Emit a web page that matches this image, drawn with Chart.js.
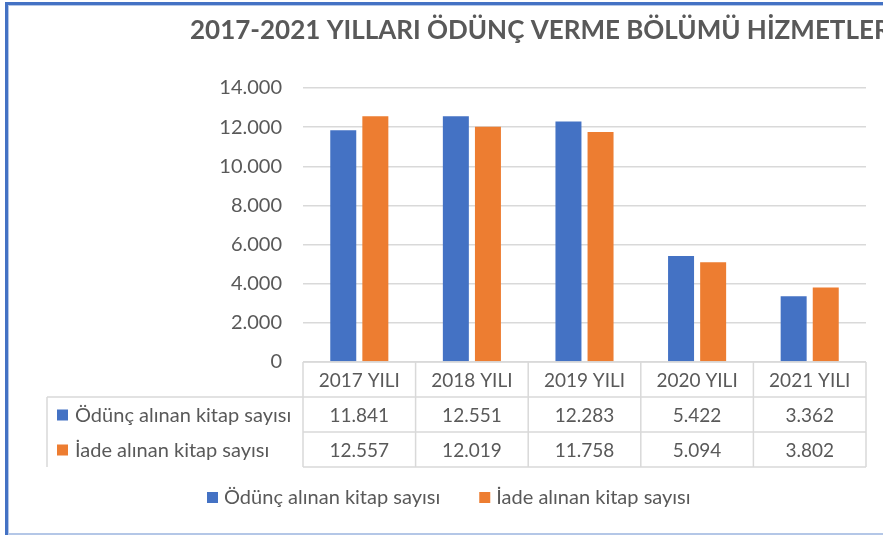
<!DOCTYPE html>
<html>
<head>
<meta charset="utf-8">
<script src="https://cdn.jsdelivr.net/npm/chart.js@4"></script>
<style>
  html, body { margin: 0; padding: 0; background: #fff; }
  #wrap { width: 883px; height: 535px; position: relative; }
</style>
</head>
<body>
<div id="wrap"><canvas id="myChart" width="883" height="535"></canvas></div>
<script>
const chartTitle = "2017-2021 YILLARI ÖDÜNÇ VERME BÖLÜMÜ HİZMETLERİ";
const years = ["2017 YILI", "2018 YILI", "2019 YILI", "2020 YILI", "2021 YILI"];
const seriesNames = ["Ödünç alınan kitap sayısı", "İade alınan kitap sayısı"];
const borrowed = [11841, 12551, 12283, 5422, 3362];
const returned = [12557, 12019, 11758, 5094, 3802];
const yTicks = [0, 2000, 4000, 6000, 8000, 10000, 12000, 14000];

const blue = "#4472C4";
const orange = "#ED7D31";
const textColor = "#595959";
const lineColor = "#d9d9d9";
const fontName = "Lato, 'Open Sans', sans-serif";

// dotted thousands like the Turkish sheet
function fmt(v) {
  return String(v).replace(/\B(?=(\d{3})+(?!\d))/g, ".");
}

const tablePlugin = {
  id: "dataTable",
  beforeDraw(chart) {
    const ctx = chart.ctx;
    ctx.save();
    ctx.fillStyle = "#fff";
    ctx.fillRect(0, 0, chart.width, chart.height);
    // frame
    ctx.fillStyle = "#4472C4";
    ctx.fillRect(5, 2, chart.width - 5, 3);
    ctx.fillRect(5, 2, 3, chart.height - 2);
    ctx.fillStyle = "#b4c7e7";
    ctx.fillRect(8, 5, chart.width - 8, 1);
    ctx.fillRect(8, 5, 1, chart.height - 5);
    ctx.fillRect(8, 533, chart.width - 8, 2);
    ctx.restore();
  },
  afterDraw(chart) {
    const ctx = chart.ctx;
    const x = chart.scales.x;
    const area = chart.chartArea;
    const rowH = 35;
    const top = area.bottom;
    const labelLeft = 47;
    const edges = [];
    for (let i = 0; i < years.length; i++) {
      const c = x.getPixelForValue(i);
      const half = (x.getPixelForValue(1) - x.getPixelForValue(0)) / 2;
      if (i === 0) edges.push(c - half);
      edges.push(c + half);
    }
    ctx.save();

    // title (runs off the right edge like the original)
    ctx.fillStyle = textColor;
    ctx.font = "bold 26px " + fontName;
    ctx.textAlign = "left";
    ctx.textBaseline = "middle";
    ctx.fillText(chartTitle, 190, 31);

    // table grid
    ctx.strokeStyle = lineColor;
    ctx.lineWidth = 1.5;
    ctx.beginPath();
    ctx.moveTo(edges[0], top);
    ctx.lineTo(edges[edges.length - 1], top);
    for (let r = 1; r <= 3; r++) {
      ctx.moveTo(r === 1 ? labelLeft : edges[0], top + r * rowH);
      ctx.lineTo(edges[edges.length - 1], top + r * rowH);
    }
    edges.forEach(e => {
      ctx.moveTo(e, top);
      ctx.lineTo(e, top + 3 * rowH);
    });
    ctx.moveTo(labelLeft, top + rowH);
    ctx.lineTo(labelLeft, top + 3 * rowH);
    ctx.stroke();

    ctx.font = "19px " + fontName;
    ctx.fillStyle = textColor;
    ctx.textAlign = "center";
    years.forEach((y, i) => {
      ctx.fillText(y, x.getPixelForValue(i), top + rowH / 2 + 1);
    });

    chart.data.datasets.forEach((ds, r) => {
      const cy = top + (r + 1.5) * rowH + 1;
      ctx.fillStyle = ds.backgroundColor;
      ctx.fillRect(57, cy - 6, 11, 11);
      ctx.fillStyle = textColor;
      ctx.font = "20px " + fontName;
      ctx.textAlign = "left";
      ctx.fillText(ds.label, 75, cy);
      ctx.font = "19px " + fontName;
      ctx.textAlign = "center";
      ds.data.forEach((v, i) => {
        ctx.fillText(fmt(v), x.getPixelForValue(i), cy);
      });
    });

    // legend under the table
    const ly = 498;
    let lx = 207;
    ctx.font = "20px " + fontName;
    chart.data.datasets.forEach(ds => {
      ctx.fillStyle = ds.backgroundColor;
      ctx.fillRect(lx, ly - 6, 11, 11);
      ctx.fillStyle = textColor;
      ctx.textAlign = "left";
      ctx.fillText(ds.label, lx + 17, ly);
      lx += 17 + ctx.measureText(ds.label).width + 39;
    });
    ctx.restore();
  }
};

new Chart(document.getElementById("myChart"), {
  type: "bar",
  data: {
    labels: years,
    datasets: [
      { label: seriesNames[0], data: borrowed, backgroundColor: blue },
      { label: seriesNames[1], data: returned, backgroundColor: orange }
    ]
  },
  options: {
    responsive: false,
    animation: false,
    events: [],
    categoryPercentage: 0.57,
    barPercentage: 0.81,
    layout: { padding: { left: 190, right: 17, top: 88, bottom: 173 } },
    plugins: {
      legend: { display: false },
      title: { display: false },
      tooltip: { enabled: false }
    },
    scales: {
      x: { display: false },
      y: {
        min: 0,
        max: 14000,
        afterFit: s => { s.width = 113; },
        afterBuildTicks: s => { s.ticks = yTicks.map(v => ({ value: v })); },
        border: { display: false },
        grid: { color: lineColor, lineWidth: 1.5, drawTicks: false },
        ticks: {
          padding: 21,
          color: textColor,
          font: { family: fontName, size: 20 },
          callback: v => fmt(v)
        }
      }
    }
  },
  plugins: [tablePlugin]
});
</script>
</body>
</html>
